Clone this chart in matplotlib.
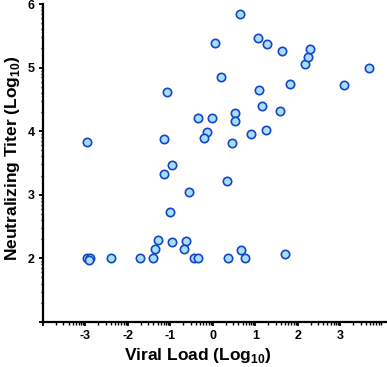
import numpy as np
import matplotlib
matplotlib.use('Agg')
import matplotlib.pyplot as plt
from matplotlib.ticker import FixedLocator

plt.rcParams['font.family'] = ['Liberation Sans', 'DejaVu Sans']
plt.rcParams['mathtext.fontset'] = 'custom'
plt.rcParams['mathtext.bf'] = 'Liberation Sans:bold'
plt.rcParams['mathtext.rm'] = 'Liberation Sans:bold'

# viral load (log10) and neutralizing titer (log10)
viral_load = [-2.96, -2.89, -2.91, -2.40, -1.71, -1.42, -1.37, -1.28, -1.02, -0.97,
              -0.64, -0.67, -0.45, -0.35, 0.36, 0.67, 0.75, 1.71,
              -0.57, 0.34, -1.15, -0.97, -2.96, -1.15, -1.09,
              -0.34, -0.03, -0.13, -0.22, 0.45, 0.89, 1.24, 0.51, 0.53,
              1.15, 1.57, 1.08, 1.81, 3.08, 0.19, 3.67,
              2.18, 2.24, 2.29, 1.62, 1.28, 1.07, 0.04, 0.64]
titer = [2.00, 2.00, 1.98, 2.00, 2.00, 2.00, 2.15, 2.29, 2.73, 2.25,
         2.27, 2.14, 2.00, 2.00, 2.00, 2.13, 2.00, 2.06,
         3.05, 3.22, 3.32, 3.47, 3.83, 3.87, 4.61,
         4.20, 4.20, 3.99, 3.89, 3.82, 3.96, 4.02, 4.29, 4.16,
         4.39, 4.31, 4.65, 4.74, 4.72, 4.85, 5.00,
         5.06, 5.16, 5.30, 5.26, 5.37, 5.47, 5.39, 5.85]

x_major = [-3, -2, -1, 0, 1, 2, 3]
y_major = [2, 3, 4, 5, 6]

fig = plt.figure(figsize=(3.87, 3.67), dpi=100)
ax = fig.add_axes([0.111, 0.123, 0.889, 0.866])

ax.scatter(viral_load, titer, s=36, facecolor='#a8def9', edgecolor='#1447c4',
           linewidth=1.2, zorder=3, clip_on=False)

ax.set_xlim(-4, 4.1)
ax.set_ylim(1, 6)

offs = np.log10(np.arange(2, 10))
ax.xaxis.set_major_locator(FixedLocator([-4] + x_major))
ax.xaxis.set_minor_locator(FixedLocator([d + o for d in range(-4, 4) for o in offs] + [4 + o for o in offs[:1]]))
ax.yaxis.set_major_locator(FixedLocator([1] + y_major))
ax.yaxis.set_minor_locator(FixedLocator([d + o for d in range(1, 6) for o in offs]))
ax.set_xticklabels([''] + [str(v) for v in x_major])
ax.set_yticklabels([''] + [str(v) for v in y_major])

for s in ['top', 'right']:
    ax.spines[s].set_visible(False)
for s in ['left', 'bottom']:
    ax.spines[s].set_linewidth(1.6)

ax.tick_params(which='major', length=3, width=1.3, labelsize=9, pad=3)
ax.tick_params(which='minor', length=1.8, width=1.0)
for lab in ax.get_xticklabels() + ax.get_yticklabels():
    lab.set_fontweight('bold')

ax.set_xlabel('Viral Load (Log$_{\\mathbf{10}}$)', fontsize=12.5, fontweight='bold')
ax.set_ylabel('Neutralizing Titer (Log$_{\\mathbf{10}}$)', fontsize=12.5, fontweight='bold')
ax.xaxis.set_label_coords(0.45, -0.075)
ax.yaxis.set_label_coords(-0.06, 0.515)

fig.savefig('out.png', dpi=100)
